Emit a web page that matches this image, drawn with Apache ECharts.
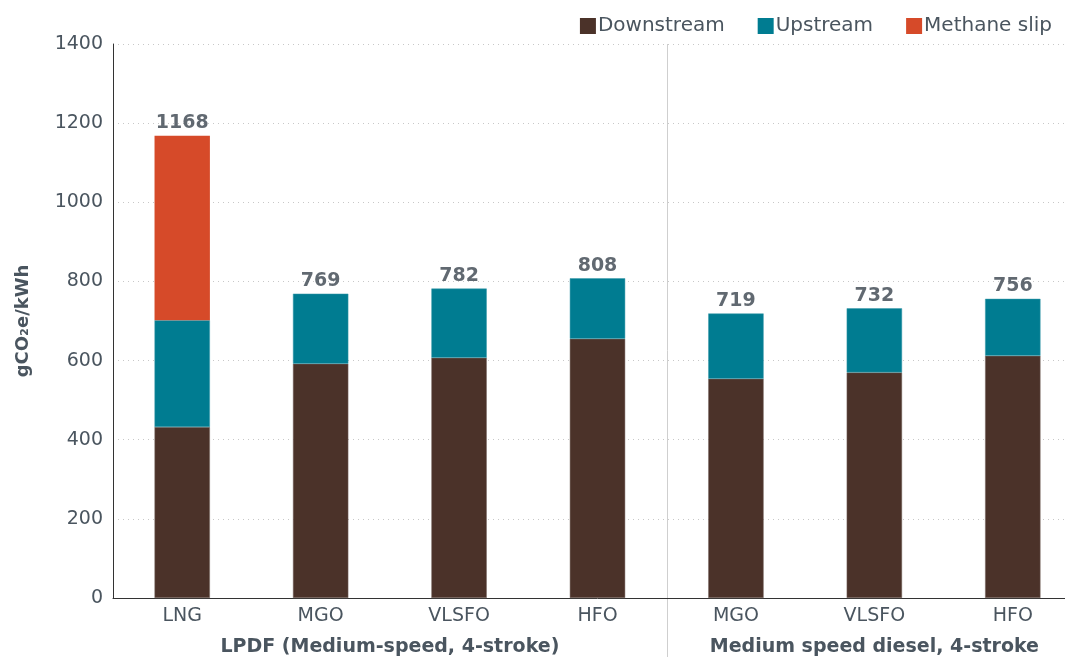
<!DOCTYPE html>
<html>
<head>
<meta charset="utf-8">
<script src="https://cdn.jsdelivr.net/npm/echarts@6/dist/echarts.min.js"></script>
<style>
html,body{margin:0;padding:0;background:#fff;overflow:hidden;width:1065px;height:657px;}
#main{width:1082px;height:657px;}
</style>
</head>
<body>
<div id="main"></div>
<script>
const categories = ['LNG', 'MGO', 'VLSFO', 'HFO', 'MGO', 'VLSFO', 'HFO'];
const groupLabels = ['LPDF (Medium-speed, 4-stroke)', 'Medium speed diesel, 4-stroke'];
const groupRanges = [[0, 3], [4, 6]];
const downstream = [432, 592, 607, 655, 554, 570, 612];
const upstream = [270, 177, 175, 153, 165, 162, 144];
const methaneSlip = [466, 0, 0, 0, 0, 0, 0];
const totals = [1168, 769, 782, 808, 719, 732, 756];
const yTicks = [0, 200, 400, 600, 800, 1000, 1200, 1400];

const FONT = '"DejaVu Sans", sans-serif';
const TXT = '#4a555f';
const DARK = '#3a444e';

const chart = echarts.init(document.getElementById('main'), null, {renderer: 'canvas'});

const option = {
  animation: false,
  textStyle: {fontFamily: FONT},
  legend: {
    data: ['Downstream', 'Upstream', 'Methane slip'],
    right: 25, top: 11,
    itemWidth: 16, itemHeight: 16, itemGap: 33,
    icon: 'rect',
    itemStyle: {borderWidth: 0},
    textStyle: {fontFamily: FONT, fontSize: 20, color: TXT, padding: [0, 0, 0, -3]}
  },
  grid: {left: 113, top: 44, right: 0, height: 554, containLabel: false},
  xAxis: {
    type: 'category',
    data: categories,
    axisLine: {lineStyle: {color: '#333', width: 1}},
    axisTick: {show: false},
    axisLabel: {fontFamily: FONT, fontSize: 19, color: TXT, margin: 9}
  },
  yAxis: {
    type: 'value',
    min: yTicks[0], max: yTicks[yTicks.length - 1], interval: 200,
    name: 'gCO₂e/kWh',
    nameLocation: 'middle',
    nameRotate: 90,
    nameGap: 81,
    nameTextStyle: {fontFamily: FONT, fontSize: 18, fontWeight: 'bold', color: TXT},
    axisLine: {show: true, lineStyle: {color: '#333', width: 1}},
    axisTick: {show: false},
    axisLabel: {fontFamily: FONT, fontSize: 19, color: TXT, margin: 10, formatter: v => String(v)},
    splitLine: {lineStyle: {color: '#c8c8c8', type: [1, 4], width: 1}}
  },
  series: [
    {
      name: 'Downstream', type: 'bar', stack: 'total', data: downstream,
      barWidth: '40%',
      itemStyle: {color: '#4b3229', borderColor: '#7a6a64', borderWidth: 0.5}
    },
    {
      name: 'Upstream', type: 'bar', stack: 'total', data: upstream,
      itemStyle: {color: '#007c91', borderColor: '#3a9aab', borderWidth: 0.5}
    },
    {
      name: 'Methane slip', type: 'bar', stack: 'total', data: methaneSlip,
      itemStyle: {color: '#d64a29'}
    },
    {
      name: 'Total', type: 'scatter', data: totals,
      symbolSize: 0, silent: true,
      label: {
        show: true, position: 'top', distance: 3,
        fontFamily: FONT, fontSize: 19, fontWeight: 'bold', color: DARK
      }
    }
  ]
};
chart.setOption(option);

function addGraphics() {
  const elements = [];
  const baseY = chart.convertToPixel({yAxisIndex: 0}, 0);
  const topY = chart.convertToPixel({yAxisIndex: 0}, 1400);
  const p3 = chart.convertToPixel({xAxisIndex: 0}, 3);
  const p4 = chart.convertToPixel({xAxisIndex: 0}, 4);
  const sepX = Math.round((p3 + p4) / 2) + 0.5;
  elements.push({
    type: 'line', silent: true,
    shape: {x1: sepX, y1: topY, x2: sepX, y2: 657},
    style: {stroke: '#cfcfcf', lineWidth: 1}
  });
  groupRanges.forEach((r, i) => {
    const a = chart.convertToPixel({xAxisIndex: 0}, r[0]);
    const b = chart.convertToPixel({xAxisIndex: 0}, r[1]);
    elements.push({
      type: 'text', silent: true,
      x: (a + b) / 2, y: baseY + 49,
      style: {
        text: groupLabels[i], fontFamily: FONT, fontSize: 19, fontWeight: 'bold',
        fill: TXT, align: 'center', verticalAlign: 'middle'
      }
    });
  });
  chart.setOption({graphic: elements});
}
addGraphics();
</script>
</body>
</html>
